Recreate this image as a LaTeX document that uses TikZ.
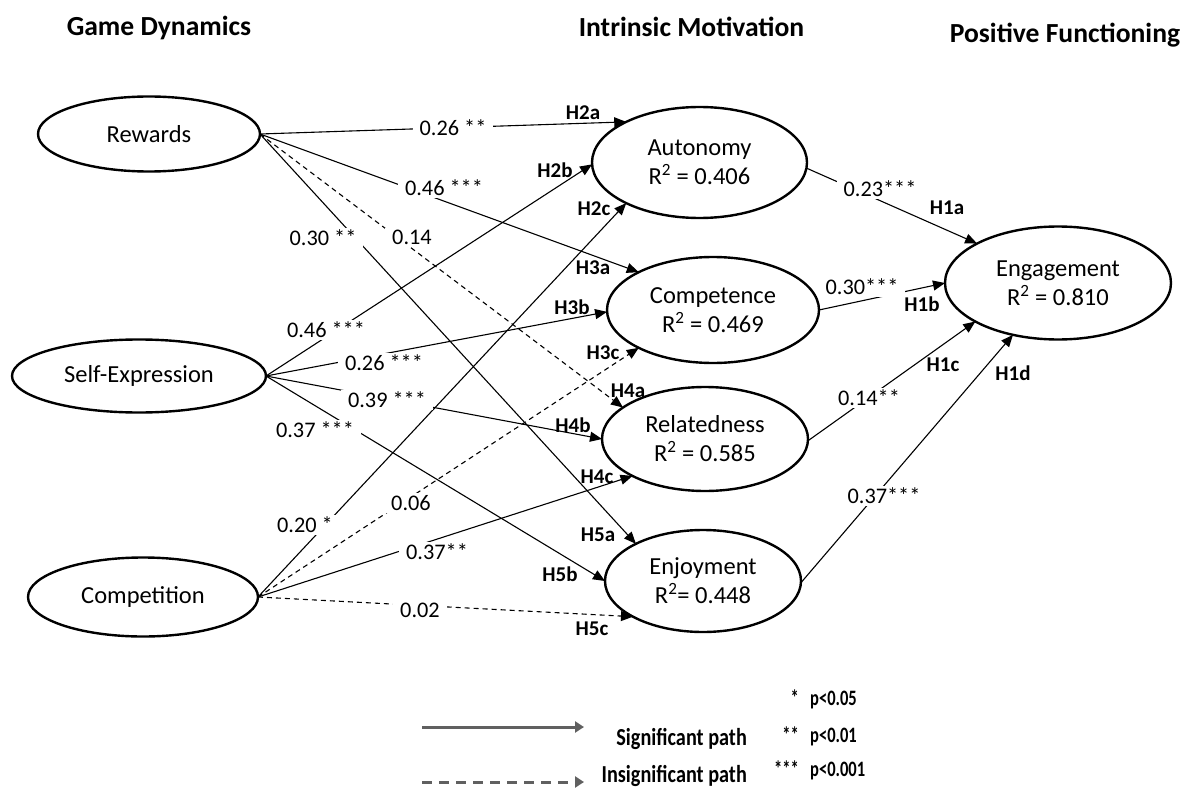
\documentclass[tikz,border=0pt]{standalone}
\usepackage{fontspec}
\setmainfont{Carlito}
\usetikzlibrary{shapes.geometric,arrows.meta}
\definecolor{legcol}{RGB}{96,96,96}
\tikzset{
  lat/.style={ellipse, draw, line width=2.4pt, inner sep=0pt, outer sep=0pt, align=center,
              font=\fontsize{24.5}{29}\selectfont},
  sig/.style={line width=1.1pt, -{Triangle[length=12pt,width=10pt]}},
  ins/.style={sig, dash pattern=on 5pt off 4pt},
  coef/.style={fill=white, inner xsep=7pt, inner ysep=2pt, font=\fontsize{22.3}{25}\selectfont},
  hyp/.style={inner sep=0pt, font=\bfseries\fontsize{21}{23}\selectfont},
  head/.style={inner sep=0pt, anchor=base, font=\bfseries\fontsize{27.6}{31}\selectfont},
  legarrow/.style={line width=3pt, legcol, -{Triangle[length=9pt,width=11pt]}},
  legtext/.style={inner sep=0pt, anchor=base east, font=\bfseries\fontsize{24.4}{27}\selectfont},
  pval/.style={inner sep=0pt, font=\bfseries\fontsize{22}{25}\selectfont},
}
\begin{document}
\begin{tikzpicture}[x=1pt,y=-1pt]
\useasboundingbox (0,0) rectangle (1186,789);
% headers
\node[head] (hgd) at (159,36) {Game Dynamics};
\node[head] (him) at (691.5,37) {Intrinsic Motivation};
\node[head] (hpf) at (1065,43) {Positive Functioning};
% latent variables
\node[lat, minimum width=222pt, minimum height=75pt] (rew) at (149,134) {Rewards};
\node[lat, minimum width=254pt, minimum height=73pt] (se) at (139,376) {Self-Expression};
\node[lat, minimum width=230pt, minimum height=79pt] (cmp) at (143,597) {Competition};
\node[lat, minimum width=215pt, minimum height=111pt] (aut) at (699.5,162.5) {Autonomy\\R\textsuperscript{2} = 0.406};
\node[lat, minimum width=212pt, minimum height=106pt] (cpt) at (713,310) {Competence\\R\textsuperscript{2} = 0.469};
\node[lat, minimum width=206pt, minimum height=104pt] (rel) at (705,439) {Relatedness\\R\textsuperscript{2} = 0.585};
\node[lat, minimum width=196pt, minimum height=102pt] (enj) at (703,581) {Enjoyment\\R\textsuperscript{2}= 0.448};
\node[lat, minimum width=226pt, minimum height=113pt] (eng) at (1058,283) {Engagement\\R\textsuperscript{2} = 0.810};
% paths from game dynamics
\draw[sig] (rew.east) -- (aut.151.5);
\draw[sig] (rew.east) -- (cpt.153.7);
\draw[ins] (rew.east) -- (rel.159.2);
\draw[sig] (rew.east) -- (enj.151.5);
\draw[sig] (se.east) -- (aut.181.3);
\draw[sig] (se.east) -- (cpt.181.6);
\draw[sig] (se.east) -- (rel.180);
\draw[sig] (se.east) -- (enj.180);
\draw[sig] (cmp.east) -- (aut.209);
\draw[ins] (cmp.east) -- (cpt.207.2);
\draw[sig] (cmp.east) -- (rel.207.8);
\draw[ins] (cmp.east) -- (enj.207.9);
% paths to engagement
\draw[sig] (aut.357) -- (eng.154);
\draw[sig] (cpt.0) -- (eng.180);
\draw[sig] (rel.359) -- (eng.205.3);
\draw[sig] (enj.359) -- (eng.229.6);
% coefficients
\node[coef] (c1) at (453,128) {0.26 **};
\node[coef] (c2) at (444,188) {0.46 ***};
\node[coef] (c3) at (412,237) {0.14};
\node[coef] (c4) at (323,238) {0.30 **};
\node[coef] (c5) at (326,330) {0.46 ***};
\node[coef] (c6) at (384,363) {0.26 ***};
\node[coef] (c7) at (387,400) {0.39 ***};
\node[coef] (c8) at (315,430) {0.37 ***};
\node[coef] (c9) at (305,525) {0.20 *};
\node[coef] (c10) at (411,503) {0.06};
\node[coef] (c11) at (437,552) {0.37**};
\node[coef] (c12) at (420,610) {0.02};
\node[coef] (c13) at (880,189) {0.23***};
\node[coef] (c14) at (862,287) {0.30***};
\node[coef] (c15) at (869,398) {0.14**};
\node[coef] (c16) at (884,496) {0.37***};
% hypotheses
\node[hyp] (h2a) at (583,113) {H2a};
\node[hyp] (h2b) at (555,170) {H2b};
\node[hyp] (h2c) at (594,209) {H2c};
\node[hyp] (h3a) at (593,268) {H3a};
\node[hyp] (h3b) at (572,307) {H3b};
\node[hyp] (h3c) at (603,353) {H3c};
\node[hyp] (h4a) at (628,391) {H4a};
\node[hyp] (h4b) at (573,425) {H4b};
\node[hyp] (h4c) at (597,477) {H4c};
\node[hyp] (h5a) at (598,535) {H5a};
\node[hyp] (h5b) at (560,574) {H5b};
\node[hyp] (h5c) at (592,629) {H5c};
\node[hyp] (h1a) at (947,208) {H1a};
\node[hyp] (h1b) at (922,304) {H1b};
\node[hyp] (h1c) at (943,365) {H1c};
\node[hyp] (h1d) at (1013,373) {H1d};
% legend
\coordinate (ls1) at (422,727);
\coordinate (le1) at (584,727);
\coordinate (ls2) at (422,782);
\coordinate (le2) at (584,782);
\draw[legarrow] (ls1) -- (le1);
\draw[legarrow, dash pattern=on 10pt off 7pt] (ls2) -- (le2);
\node[legtext] (lsig) at (747,745) {\scalebox{0.83}[1]{Significant path}};
\node[legtext] (lins) at (747,782) {\scalebox{0.83}[1]{Insignificant path}};
\node[pval, anchor=base east] (s1) at (799,705) {\scalebox{0.75}[1]{*}};
\node[pval, anchor=base east] (s2) at (799,742) {\scalebox{0.75}[1]{**}};
\node[pval, anchor=base east] (s3) at (799,776) {\scalebox{0.75}[1]{***}};
\node[pval, anchor=base west] (p1) at (810,705) {\scalebox{0.75}[1]{p<0.05}};
\node[pval, anchor=base west] (p2) at (810,742) {\scalebox{0.75}[1]{p<0.01}};
\node[pval, anchor=base west] (p3) at (810,776) {\scalebox{0.75}[1]{p<0.001}};
\end{tikzpicture}
\end{document}
